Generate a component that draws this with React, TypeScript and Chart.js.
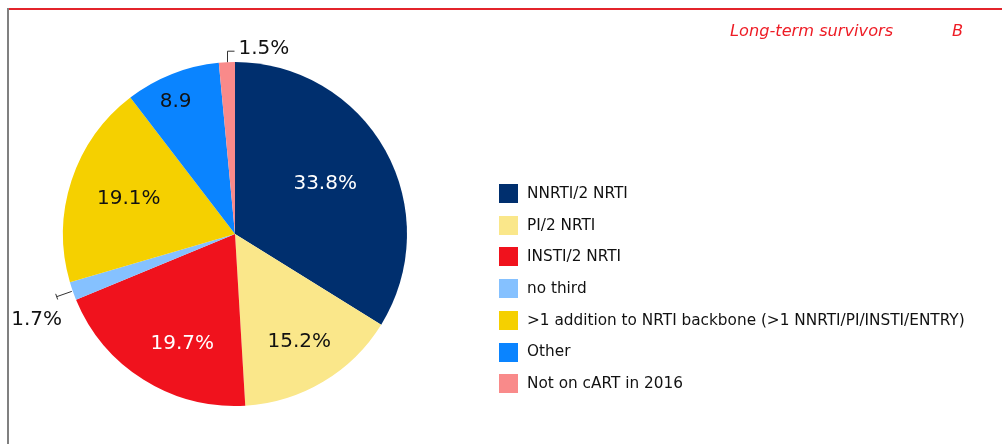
import React, { useEffect, useRef } from "react";
import { Chart, registerables } from "chart.js";

Chart.register(...registerables);

const categories = [
  "NNRTI/2 NRTI",
  "PI/2 NRTI",
  "INSTI/2 NRTI",
  "no third",
  ">1 addition to NRTI backbone (>1 NNRTI/PI/INSTI/ENTRY)",
  "Other",
  "Not on cART in 2016",
];
const values = [33.8, 15.2, 19.7, 1.7, 19.1, 8.9, 1.5];
const valueLabels = ["33.8%", "15.2%", "19.7%", "1.7%", "19.1%", "8.9", "1.5%"];
const titleText = "Long-term survivors";
const panelLetter = "B";

const colors = ["#002F6E", "#FAE78A", "#F0121D", "#85C1FF", "#F5D000", "#0A84FF", "#F98A8A"];
const labelColors = ["#ffffff", "#111111", "#ffffff", "#111111", "#111111", "#111111", "#111111"];
// radial position of inside labels (fraction of radius); -1 = outside label with leader
const labelRadius = [0.6, 0.73, 0.71, -1, 0.65, 0.84, -1];
const labelAngleShift = [0, 0, -6.5, 0, 0, -2.8, 0];
const FONT = "'DejaVu Sans', Verdana, sans-serif";

const overlayPlugin = {
  id: "overlay",
  afterDraw(chart: any) {
    const ctx = chart.ctx as CanvasRenderingContext2D;
    const meta = chart.getDatasetMeta(0);
    ctx.save();
    // frame
    ctx.fillStyle = "#E3242B";
    ctx.fillRect(7, 8, 995, 2);
    ctx.fillStyle = "#808080";
    ctx.fillRect(7, 8, 2, 436);

    // title
    ctx.fillStyle = "#EE1C25";
    ctx.font = `oblique 16.2px ${FONT}`;
    ctx.textBaseline = "middle";
    ctx.textAlign = "left";
    ctx.fillText(titleText, 730, 32);
    ctx.fillText(panelLetter, 952, 32);

    // slice labels
    ctx.font = `20px ${FONT}`;
    meta.data.forEach((arc: any, i: number) => {
      const p = arc.getProps(["x", "y", "startAngle", "endAngle", "outerRadius"], true);
      const mid = (p.startAngle + p.endAngle) / 2 + (labelAngleShift[i] * Math.PI) / 180;
      const cos = Math.cos(mid);
      const sin = Math.sin(mid);
      if (labelRadius[i] > 0) {
        const r = p.outerRadius * labelRadius[i];
        ctx.fillStyle = labelColors[i];
        ctx.textAlign = "center";
        ctx.textBaseline = "middle";
        ctx.fillText(valueLabels[i], p.x + cos * r, p.y + sin * r);
      } else {
        const ex = p.x + cos * p.outerRadius;
        const ey = p.y + sin * p.outerRadius;
        ctx.strokeStyle = "#333333";
        ctx.lineWidth = 1;
        ctx.fillStyle = "#111111";
        if (sin < -0.9) {
          // top leader: up then right
          const x0 = Math.round(ex) + 0.5;
          ctx.beginPath();
          ctx.moveTo(x0, ey);
          ctx.lineTo(x0, ey - 11);
          ctx.lineTo(x0 + 7, ey - 11);
          ctx.stroke();
          ctx.textAlign = "left";
          ctx.textBaseline = "middle";
          ctx.fillText(valueLabels[i], x0 + 11, ey - 13);
        } else {
          // left leader: outward radial with end tick
          const len = 17;
          const sx = ex + cos * 1;
          const sy = ey + sin * 1;
          const lx = ex + cos * len;
          const ly = ey + sin * len;
          ctx.beginPath();
          ctx.moveTo(sx, sy);
          ctx.lineTo(lx, ly);
          ctx.moveTo(lx - sin * 3, ly + cos * 3);
          ctx.lineTo(lx + sin * 3, ly - cos * 3);
          ctx.stroke();
          ctx.textAlign = "center";
          ctx.textBaseline = "middle";
          ctx.fillText(valueLabels[i], lx - 20, ly + 23);
        }
      }
    });

    // legend
    ctx.font = `15.3px ${FONT}`;
    ctx.textAlign = "left";
    ctx.textBaseline = "middle";
    categories.forEach((c, i) => {
      const cy = 193 + i * 31.7;
      ctx.fillStyle = colors[i];
      ctx.fillRect(499, Math.round(cy - 9), 19, 19);
      ctx.fillStyle = "#111111";
      ctx.fillText(c, 527, cy + 1);
    });
    ctx.restore();
  },
};

export default function App() {
  const ref = useRef<HTMLCanvasElement | null>(null);
  useEffect(() => {
    if (!ref.current) return;
    const chart = new Chart(ref.current, {
      type: "pie",
      data: {
        labels: categories,
        datasets: [
          {
            data: values,
            backgroundColor: colors,
            borderWidth: 0,
          },
        ],
      },
      options: {
        animation: false,
        responsive: false,
        maintainAspectRatio: false,
        layout: { padding: { left: 63, top: 62, right: 595, bottom: 38 } },
        plugins: {
          legend: { display: false },
          tooltip: { enabled: false },
          title: { display: false },
        },
      },
      plugins: [overlayPlugin],
    });
    return () => chart.destroy();
  }, []);
  return (
    <div style={{ position: "fixed", left: 0, top: 0, width: 1002, height: 444, background: "#fff" }}>
      <canvas ref={ref} width={1002} height={444} style={{ display: "block" }} />
    </div>
  );
}
